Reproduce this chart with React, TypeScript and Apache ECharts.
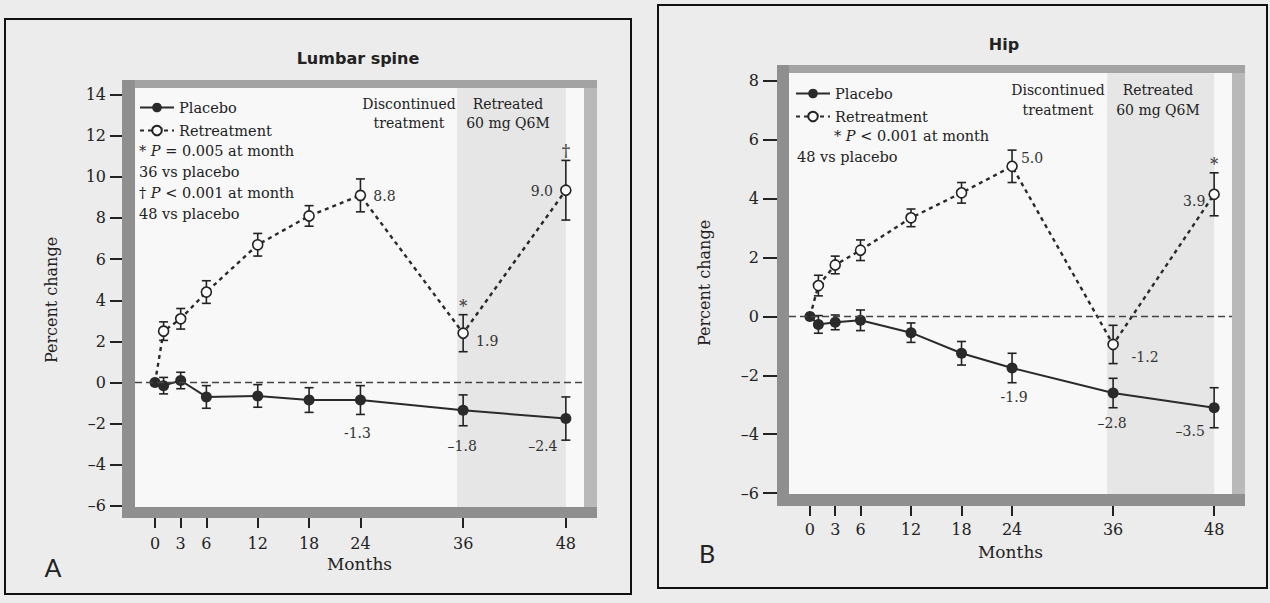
import React, { useEffect, useRef } from 'react';
import * as echarts from 'echarts';

// ---------------- data ----------------
const months = [0, 1, 3, 6, 12, 18, 24, 36, 48];
const monthTicks = [0, 3, 6, 12, 18, 24, 36, 48];

// Panel A: Lumbar spine
const spineYTicks = [-6, -4, -2, 0, 2, 4, 6, 8, 10, 12, 14];
const spinePlacebo = [0, -0.15, 0.1, -0.7, -0.65, -0.85, -0.85, -1.35, -1.75];
const spinePlaceboErr = [0, 0.4, 0.4, 0.55, 0.55, 0.6, 0.7, 0.75, 1.05];
const spineRetreat = [0, 2.5, 3.1, 4.4, 6.7, 8.1, 9.1, 2.4, 9.35];
const spineRetreatErr = [0, 0.45, 0.5, 0.55, 0.55, 0.5, 0.8, 0.9, 1.45];
const spinePlaceboLabels = ['', '', '', '', '', '', '-1.3', '–1.8', '–2.4'];
const spineRetreatLabels = ['', '', '', '', '', '', '8.8', '1.9', '9.0'];
const spineRetreatSig = ['', '', '', '', '', '', '', '*', '†'];

// Panel B: Hip
const hipYTicks = [-6, -4, -2, 0, 2, 4, 6, 8];
const hipPlacebo = [0, -0.27, -0.2, -0.13, -0.55, -1.25, -1.75, -2.6, -3.1];
const hipPlaceboErr = [0, 0.3, 0.25, 0.35, 0.33, 0.4, 0.5, 0.5, 0.68];
const hipRetreat = [0, 1.05, 1.75, 2.25, 3.35, 4.2, 5.1, -0.95, 4.15];
const hipRetreatErr = [0, 0.35, 0.3, 0.35, 0.3, 0.35, 0.55, 0.65, 0.73];
const hipPlaceboLabels = ['', '', '', '', '', '', '-1.9', '–2.8', '–3.5'];
const hipRetreatLabels = ['', '', '', '', '', '', '5.0', '-1.2', '3.9'];
const hipRetreatSig = ['', '', '', '', '', '', '', '', '*'];

const retreatStartMonth = 35.3;

// ---------------- layout / style ----------------
const SERIF = "'DejaVu Serif', serif";
const SANS = "'DejaVu Sans', sans-serif";
const INK = '#222';

const GA = { left: 135, top: 88, width: 449, height: 419 };
const GB = { left: 789, top: 73, width: 443, height: 421 };

const spinePlaceboOff: any[] = [null, null, null, null, null, null, [-3, 33], [-1, 36], [-23, 27]];
const spineRetreatOff: any[] = [null, null, null, null, null, null, [24, 1], [24, 8], [-24, 1]];
const hipPlaceboOff: any[] = [null, null, null, null, null, null, [2, 29], [-1, 30], [-24, 23]];
const hipRetreatOff: any[] = [null, null, null, null, null, null, [20, -8], [32, 13], [-20, 7]];

function lineData(vals: number[], labels: string[], offs: any[], hideFirst: boolean) {
  return months.map((m, i) => {
    const item: any = { value: [m, vals[i]] };
    if (hideFirst && i === 0) item.symbol = 'none';
    if (labels[i]) {
      item.label = {
        show: true,
        formatter: labels[i],
        position: 'inside',
        offset: offs[i],
        fontFamily: SERIF,
        fontSize: 14,
        color: '#333',
      };
    }
    return item;
  });
}

function errSeries(vals: number[], errs: number[], axis: number) {
  return {
    type: 'custom',
    xAxisIndex: axis,
    yAxisIndex: axis,
    z: 1,
    clip: false,
    silent: true,
    color: INK,
    itemStyle: { color: INK },
    data: months.map((m, i) => [m, vals[i] - errs[i], vals[i] + errs[i]]),
    renderItem: (params: any, api: any) => {
      const i = params.dataIndex;
      if (!errs[i]) return { type: 'group', children: [] };
      const x = api.value(0);
      const top = api.coord([x, api.value(2)]);
      const bot = api.coord([x, api.value(1)]);
      const st = { stroke: INK, lineWidth: 1.6 };
      const cap = 4.5;
      return {
        type: 'group',
        children: [
          { type: 'line', shape: { x1: top[0], y1: top[1], x2: bot[0], y2: bot[1] }, style: st },
          { type: 'line', shape: { x1: top[0] - cap, y1: top[1], x2: top[0] + cap, y2: top[1] }, style: st },
          { type: 'line', shape: { x1: bot[0] - cap, y1: bot[1], x2: bot[0] + cap, y2: bot[1] }, style: st },
        ],
      };
    },
  };
}

function sigSeries(vals: number[], errs: number[], sig: string[], axis: number) {
  const data: any[] = [];
  months.forEach((m, i) => {
    if (sig[i]) data.push({ value: [m, vals[i] + errs[i]], label: { formatter: sig[i] } });
  });
  return {
    type: 'scatter',
    xAxisIndex: axis,
    yAxisIndex: axis,
    z: 4,
    silent: true,
    symbol: 'circle',
    symbolSize: 1,
    itemStyle: { color: 'rgba(0,0,0,0)' },
    label: {
      show: true, position: 'top', distance: 1, color: '#222',
      fontFamily: SERIF, fontSize: 16, fontWeight: 'bold',
    },
    data,
  };
}

function panelSeries(axis: number, plac: number[], placErr: number[], placLab: string[], placOff: any[],
  ret: number[], retErr: number[], retLab: string[], retOff: any[], retSig: string[]) {
  return [
    {
      name: 'Placebo',
      type: 'line',
      xAxisIndex: axis,
      yAxisIndex: axis,
      z: 3,
      symbol: 'circle',
      symbolSize: 11,
      color: '#2a2a2a',
      lineStyle: { color: '#2a2a2a', width: 2 },
      itemStyle: { color: '#2a2a2a' },
      data: lineData(plac, placLab, placOff, false),
      markLine: {
        silent: true,
        symbol: ['none', 'none'],
        label: { show: false },
        lineStyle: { type: [7, 4], color: '#444', width: 1.3 },
        data: [{ yAxis: 0 }],
      },
      markArea: {
        silent: true,
        itemStyle: { color: 'rgba(120,120,120,0.14)' },
        data: [[{ xAxis: retreatStartMonth }, { xAxis: 'max' }]],
      },
    },
    {
      name: 'Retreatment',
      type: 'line',
      xAxisIndex: axis,
      yAxisIndex: axis,
      z: 3,
      symbol: 'circle',
      symbolSize: 10,
      color: '#222',
      lineStyle: { color: '#2a2a2a', width: 2.4, type: [4, 4] },
      itemStyle: { color: '#fbfbfb', borderColor: '#222', borderWidth: 1.6 },
      data: lineData(ret, retLab, retOff, true),
    },
    errSeries(plac, placErr, axis),
    errSeries(ret, retErr, axis),
    sigSeries(ret, retErr, retSig, axis),
  ];
}

function frame(g: any, band: { l: number; t: number; b: number; r: number }) {
  const dark = '#8f8f8f';
  const light = '#b9b9b9';
  const x0 = g.left - band.l;
  const y0 = g.top - band.t;
  const fullW = g.width + band.l + band.r;
  const fullH = g.height + band.t + band.b;
  return [
    { type: 'rect', silent: true, z: 0, shape: { x: g.left + g.width, y: y0, width: band.r, height: fullH }, style: { fill: light } },
    { type: 'rect', silent: true, z: 0, shape: { x: x0, y: y0, width: fullW, height: band.t }, style: { fill: '#a3a3a3' } },
    { type: 'rect', silent: true, z: 0, shape: { x: x0, y: y0, width: band.l, height: fullH }, style: { fill: dark } },
    { type: 'rect', silent: true, z: 0, shape: { x: x0, y: g.top + g.height, width: fullW, height: band.b }, style: { fill: dark } },
  ];
}

function txt(text: string, x: number, y: number, extra: any = {}, rotation = 0) {
  return {
    type: 'text',
    silent: true,
    z: 10,
    x,
    y,
    rotation,
    style: {
      text, x: 0, y: 0, fill: INK, fontFamily: SERIF, fontSize: 14.5,
      align: 'left', verticalAlign: 'middle', ...extra,
    },
  };
}

const italicRich = { i: { fontStyle: 'italic', fontFamily: SERIF, fontSize: 14.5, fill: INK } };

function xAxisCfg(grid: number, min: number, max: number, offset: number, margin: number, gap: number) {
  return {
    type: 'value', gridIndex: grid, min, max, offset, position: 'bottom',
    axisLine: { show: false, onZero: false },
    axisTick: { show: true, customValues: monthTicks, length: 10, inside: false, lineStyle: { color: INK, width: 2 } },
    axisLabel: { show: true, customValues: monthTicks, margin, fontFamily: SERIF, fontSize: 16, color: INK },
    splitLine: { show: false },
    name: 'Months', nameLocation: 'middle', nameGap: gap,
    nameTextStyle: { fontFamily: SERIF, fontSize: 17, color: INK },
  };
}

function yAxisCfg(grid: number, min: number, max: number, ticks: number[], offset: number, len: number, margin: number) {
  return {
    type: 'value', gridIndex: grid, min, max, offset, position: 'left',
    axisLine: { show: false, onZero: false },
    axisTick: { show: true, customValues: ticks, length: len, inside: false, lineStyle: { color: INK, width: 2 } },
    axisLabel: {
      show: true, customValues: ticks, margin, fontFamily: SERIF, fontSize: 16, color: INK,
      formatter: (v: number) => (v < 0 ? '–' + Math.abs(v) : String(v)),
    },
    splitLine: { show: false },
  };
}

export default function App() {
  const ref = useRef<HTMLDivElement>(null);
  useEffect(() => {
    document.body.style.margin = '0';
    if (!ref.current) return;
    const chart = echarts.init(ref.current, undefined, { renderer: 'svg' });
    const option: any = {
      animation: false,
      backgroundColor: '#ececec',
      grid: [
        { ...GA, show: true, backgroundColor: '#f8f8f8', borderWidth: 0 },
        { ...GB, show: true, backgroundColor: '#f8f8f8', borderWidth: 0 },
      ],
      xAxis: [
        xAxisCfg(0, -2.34, 50.12, 11, 17, 36),
        xAxisCfg(1, -2.49, 50.12, 12, 15, 37),
      ],
      yAxis: [
        yAxisCfg(0, -6.05, 14.32, spineYTicks, 13, 12, 16),
        yAxisCfg(1, -6.03, 8.27, hipYTicks, 12, 14, 18),
      ],
      legend: [
        {
          data: ['Placebo', 'Retreatment'], orient: 'vertical', left: 139, top: 100,
          itemWidth: 34, itemHeight: 12, itemGap: 8, padding: 0, selectedMode: false,
          textStyle: { fontFamily: SERIF, fontSize: 14.5, color: INK },
        },
        {
          data: ['Placebo', 'Retreatment'], orient: 'vertical', left: 795, top: 86,
          itemWidth: 34, itemHeight: 12, itemGap: 8, padding: 0, selectedMode: false,
          textStyle: { fontFamily: SERIF, fontSize: 14.5, color: INK },
        },
      ],
      graphic: [
        // panel borders
        { type: 'rect', silent: true, z: 0, shape: { x: 5, y: 19, width: 626, height: 575 }, style: { fill: 'none', stroke: '#111', lineWidth: 2 } },
        { type: 'rect', silent: true, z: 0, shape: { x: 658, y: 5, width: 609, height: 583 }, style: { fill: 'none', stroke: '#111', lineWidth: 2 } },
        ...frame(GA, { l: 13, t: 8, b: 11, r: 13 }),
        ...frame(GB, { l: 12, t: 8, b: 12, r: 13 }),
        // titles
        txt('Lumbar spine', 358, 58, { align: 'center', fontFamily: SANS, fontWeight: 'bold', fontSize: 16 }),
        txt('Hip', 1004, 44, { align: 'center', fontFamily: SANS, fontWeight: 'bold', fontSize: 16 }),
        // phase labels
        txt('Discontinued', 409, 104, { align: 'center', fontSize: 14 }),
        txt('treatment', 409, 123, { align: 'center', fontSize: 14 }),
        txt('Retreated', 508, 104, { align: 'center', fontSize: 14 }),
        txt('60 mg Q6M', 508, 123, { align: 'center', fontSize: 14 }),
        txt('Discontinued', 1058, 90, { align: 'center', fontSize: 14 }),
        txt('treatment', 1058, 110, { align: 'center', fontSize: 14 }),
        txt('Retreated', 1158, 90, { align: 'center', fontSize: 14 }),
        txt('60 mg Q6M', 1158, 110, { align: 'center', fontSize: 14 }),
        // p-value notes
        txt('* {i|P} = 0.005 at month', 139, 151, { rich: italicRich }),
        txt('36 vs placebo', 139, 172),
        txt('† {i|P} < 0.001 at month', 139, 193, { rich: italicRich }),
        txt('48 vs placebo', 139, 214),
        txt('* {i|P} < 0.001 at month', 834, 136, { rich: italicRich }),
        txt('48 vs placebo', 797, 157),
        // y names
        txt('Percent change', 51, 300, { align: 'center', fontSize: 16 }, Math.PI / 2),
        txt('Percent change', 704, 283, { align: 'center', fontSize: 16 }, Math.PI / 2),
        // panel letters
        txt('A', 53, 567, { align: 'center', fontFamily: "'Lato', sans-serif", fontSize: 25 }),
        txt('B', 707, 553, { align: 'center', fontFamily: "'Lato', sans-serif", fontSize: 25 }),
      ],
      series: [
        ...panelSeries(0, spinePlacebo, spinePlaceboErr, spinePlaceboLabels, spinePlaceboOff,
          spineRetreat, spineRetreatErr, spineRetreatLabels, spineRetreatOff, spineRetreatSig),
        ...panelSeries(1, hipPlacebo, hipPlaceboErr, hipPlaceboLabels, hipPlaceboOff,
          hipRetreat, hipRetreatErr, hipRetreatLabels, hipRetreatOff, hipRetreatSig),
      ],
    };
    chart.setOption(option);
    return () => chart.dispose();
  }, []);
  return <div ref={ref} style={{ width: 1270, height: 603 }} />;
}
